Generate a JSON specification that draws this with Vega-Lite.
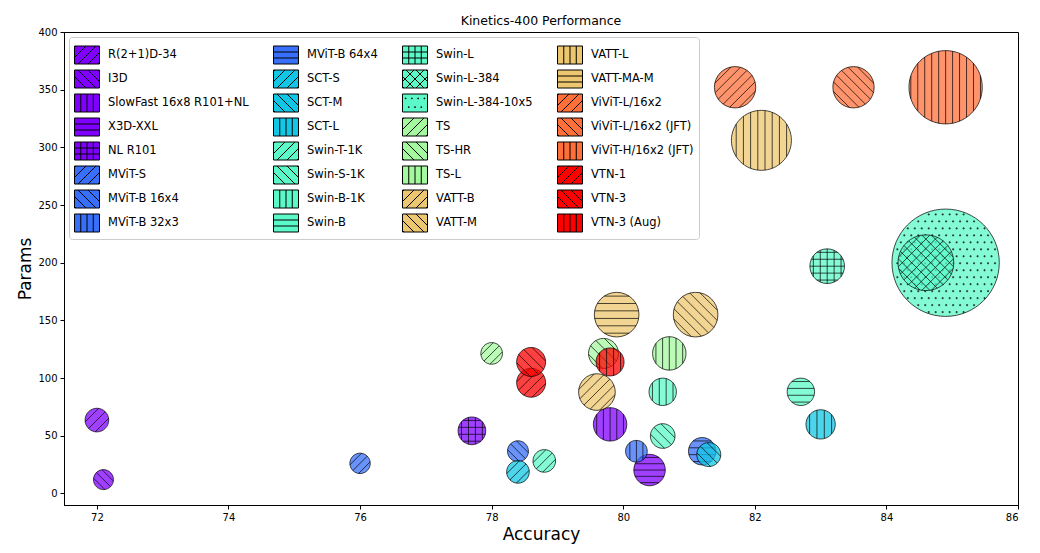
{
  "$schema": "https://vega.github.io/schema/vega-lite/v6.json",
  "width": 954,
  "height": 473,
  "autosize": {"type": "none"},
  "padding": {"left": 64, "top": 32, "right": 22, "bottom": 48},
  "background": "white",
  "title": {"text": "Kinetics-400 Performance", "fontSize": 12.5, "fontWeight": "normal", "font": "DejaVu Sans", "color": "black", "offset": 0},
  "data": {"values": [
    {"model": "R(2+1)D-34", "acc": 72.0, "params": 63.6, "flops": 140},
    {"model": "I3D", "acc": 72.1, "params": 12.0, "flops": 100},
    {"model": "SlowFast 16x8 R101+NL", "acc": 79.8, "params": 59.9, "flops": 280},
    {"model": "X3D-XXL", "acc": 80.4, "params": 20.3, "flops": 248},
    {"model": "NL R101", "acc": 77.7, "params": 54.3, "flops": 192},
    {"model": "MViT-S", "acc": 76.0, "params": 26.1, "flops": 104},
    {"model": "MViT-B 16x4", "acc": 78.4, "params": 36.6, "flops": 110},
    {"model": "MViT-B 32x3", "acc": 80.2, "params": 36.6, "flops": 118},
    {"model": "MViT-B 64x4", "acc": 81.2, "params": 36.6, "flops": 188},
    {"model": "SCT-S", "acc": 78.4, "params": 18.7, "flops": 128},
    {"model": "SCT-M", "acc": 81.3, "params": 33.7, "flops": 144},
    {"model": "SCT-L", "acc": 83.0, "params": 59.9, "flops": 215},
    {"model": "Swin-T-1K", "acc": 78.8, "params": 28.2, "flops": 128},
    {"model": "Swin-S-1K", "acc": 80.6, "params": 49.8, "flops": 152},
    {"model": "Swin-B-1K", "acc": 80.6, "params": 88.1, "flops": 188},
    {"model": "Swin-B", "acc": 82.7, "params": 88.1, "flops": 188},
    {"model": "Swin-L", "acc": 83.1, "params": 197, "flops": 300},
    {"model": "Swin-L-384-10x5", "acc": 84.9, "params": 200, "flops": 2880},
    {"model": "Swin-L-384", "acc": 84.6, "params": 200, "flops": 775},
    {"model": "TS", "acc": 78.0, "params": 121.4, "flops": 117},
    {"model": "TS-HR", "acc": 79.7, "params": 121.4, "flops": 225},
    {"model": "TS-L", "acc": 80.7, "params": 121.4, "flops": 280},
    {"model": "VATT-B", "acc": 79.6, "params": 87.9, "flops": 336},
    {"model": "VATT-M", "acc": 81.1, "params": 155, "flops": 498},
    {"model": "VATT-L", "acc": 82.1, "params": 306.1, "flops": 900},
    {"model": "VATT-MA-M", "acc": 79.9, "params": 155, "flops": 498},
    {"model": "ViViT-L/16x2", "acc": 81.7, "params": 352.1, "flops": 427},
    {"model": "ViViT-L/16x2 (JFT)", "acc": 83.5, "params": 352.1, "flops": 427},
    {"model": "ViViT-H/16x2 (JFT)", "acc": 84.9, "params": 352.1, "flops": 1344},
    {"model": "VTN-1", "acc": 78.6, "params": 96, "flops": 210},
    {"model": "VTN-3", "acc": 78.6, "params": 114, "flops": 210},
    {"model": "VTN-3 (Aug)", "acc": 79.8, "params": 114, "flops": 196}
  ]},
  "mark": {"type": "point", "filled": true, "stroke": "black", "strokeWidth": 1, "opacity": 1, "fillOpacity": 0.75, "strokeOpacity": 0.7},
  "encoding": {
    "x": {"field": "acc", "type": "quantitative", "scale": {"domain": [71.5, 86], "nice": false, "zero": false}, "axis": {"title": "Accuracy", "values": [72, 74, 76, 78, 80, 82, 84, 86], "format": "d"}},
    "y": {"field": "params", "type": "quantitative", "scale": {"domain": [-10, 400], "nice": false, "zero": false}, "axis": {"title": "Params", "values": [0, 50, 100, 150, 200, 250, 300, 350, 400], "format": "d"}},
    "size": {"field": "flops", "type": "quantitative", "scale": {"domain": [0, 3000], "range": [0, 12000], "zero": true}, "legend": null},
    "color": {
      "field": "model", "type": "nominal",
      "scale": {
        "domain": ["R(2+1)D-34", "I3D", "SlowFast 16x8 R101+NL", "X3D-XXL", "NL R101", "MViT-S", "MViT-B 16x4", "MViT-B 32x3", "MViT-B 64x4", "SCT-S", "SCT-M", "SCT-L", "Swin-T-1K", "Swin-S-1K", "Swin-B-1K", "Swin-B", "Swin-L", "Swin-L-384", "Swin-L-384-10x5", "TS", "TS-HR", "TS-L", "VATT-B", "VATT-M", "VATT-L", "VATT-MA-M", "ViViT-L/16x2", "ViViT-L/16x2 (JFT)", "ViViT-H/16x2 (JFT)", "VTN-1", "VTN-3", "VTN-3 (Aug)"],
        "range": ["#8000ff", "#8000ff", "#8000ff", "#8000ff", "#8000ff", "#376ff9", "#376ff9", "#376ff9", "#376ff9", "#12c7e6", "#12c7e6", "#12c7e6", "#5bf9c7", "#5bf9c7", "#5bf9c7", "#5bf9c7", "#5bf9c7", "#5bf9c7", "#5bf9c7", "#a4f99f", "#a4f99f", "#a4f99f", "#edc76f", "#edc76f", "#edc76f", "#edc76f", "#ff6f39", "#ff6f39", "#ff6f39", "#ff0000", "#ff0000", "#ff0000"]
      },
      "legend": {
        "title": null, "orient": "top-left", "offset": 5, "columns": 4, "columnPadding": 22, "rowPadding": 0, "symbolLimit": 40,
        "symbolSize": 625, "symbolStrokeColor": "black", "symbolStrokeWidth": 1, "symbolOpacity": 1,
        "labelFontSize": 11.5, "labelFont": "DejaVu Sans", "labelOffset": 8, "labelColor": "black", "labelLimit": 300,
        "padding": 5, "strokeColor": "#cccccc", "fillColor": "rgba(255,255,255,0.8)", "cornerRadius": 3,
        "encode": {"symbols": {"update": {
          "fillOpacity": {"value": 1}, "strokeOpacity": {"value": 1}, "opacity": {"value": 1},
          "stroke": {"value": "black"}, "strokeWidth": {"value": 1},
          "shape": {"signal": "['M-1,-0.72L1,-0.72L1,0.72L-1,0.72ZM-0.72,0.72L0.72,-0.72M0.08,0.72L1,-0.2M-1,0.2L-0.08,-0.72M0.88,0.72L1,0.6M-1,-0.6L-0.88,-0.72', 'M-1,-0.72L1,-0.72L1,0.72L-1,0.72ZM-0.72,-0.72L0.72,0.72M0.08,-0.72L1,0.2M-1,-0.2L-0.08,0.72M0.88,-0.72L1,-0.6M-1,0.6L-0.88,0.72', 'M-1,-0.72L1,-0.72L1,0.72L-1,0.72ZM-0.5,-0.72L-0.5,0.72M0,-0.72L0,0.72M0.5,-0.72L0.5,0.72', 'M-1,-0.72L1,-0.72L1,0.72L-1,0.72ZM-1,-0.24L1,-0.24M-1,0.24L1,0.24', 'M-1,-0.72L1,-0.72L1,0.72L-1,0.72ZM-0.5,-0.72L-0.5,0.72M0,-0.72L0,0.72M0.5,-0.72L0.5,0.72M-1,-0.24L1,-0.24M-1,0.24L1,0.24', 'M-1,-0.72L1,-0.72L1,0.72L-1,0.72ZM-0.72,0.72L0.72,-0.72M0.08,0.72L1,-0.2M-1,0.2L-0.08,-0.72M0.88,0.72L1,0.6M-1,-0.6L-0.88,-0.72M-0.72,-0.72L0.72,0.72M0.08,-0.72L1,0.2M-1,-0.2L-0.08,0.72M0.88,-0.72L1,-0.6M-1,0.6L-0.88,0.72', 'M-1,-0.72L1,-0.72L1,0.72L-1,0.72ZM-0.78,-0.4L-0.72,-0.4L-0.72,-0.34L-0.78,-0.34ZM-0.28,-0.4L-0.22,-0.4L-0.22,-0.34L-0.28,-0.34ZM0.22,-0.4L0.28,-0.4L0.28,-0.34L0.22,-0.34ZM0.72,-0.4L0.78,-0.4L0.78,-0.34L0.72,-0.34ZM-0.53,0.3L-0.47,0.3L-0.47,0.36L-0.53,0.36ZM-0.03,0.3L0.03,0.3L0.03,0.36L-0.03,0.36ZM0.47,0.3L0.53,0.3L0.53,0.36L0.47,0.36Z'][[0,1,2,3,4,0,1,2,3,0,1,2,0,1,2,3,4,5,6,0,1,2,0,1,2,3,0,1,2,0,1,2][indexof(['R(2+1)D-34','I3D','SlowFast 16x8 R101+NL','X3D-XXL','NL R101','MViT-S','MViT-B 16x4','MViT-B 32x3','MViT-B 64x4','SCT-S','SCT-M','SCT-L','Swin-T-1K','Swin-S-1K','Swin-B-1K','Swin-B','Swin-L','Swin-L-384','Swin-L-384-10x5','TS','TS-HR','TS-L','VATT-B','VATT-M','VATT-L','VATT-MA-M','ViViT-L/16x2','ViViT-L/16x2 (JFT)','ViViT-H/16x2 (JFT)','VTN-1','VTN-3','VTN-3 (Aug)'], datum.value)]]"}
        }}}
      }
    },
    "shape": {
      "condition": [
        {"test": "indexof(['R(2+1)D-34','MViT-S','SCT-S','Swin-T-1K','TS'], datum.model) >= 0", "value": "M1,0C1,0.552,0.552,1,0,1C-0.552,1,-1,0.552,-1,0C-1,-0.552,-0.552,-1,0,-1C0.552,-1,1,-0.552,1,0ZM-0.707,0.707L0.707,-0.707M-0.141,0.99L0.99,-0.141M-0.99,0.141L0.141,-0.99"},
        {"test": "indexof(['I3D','MViT-B 16x4','SCT-M','Swin-S-1K'], datum.model) >= 0", "value": "M1,0C1,0.552,0.552,1,0,1C-0.552,1,-1,0.552,-1,0C-1,-0.552,-0.552,-1,0,-1C0.552,-1,1,-0.552,1,0ZM-0.707,-0.707L0.707,0.707M-0.141,-0.99L0.99,0.141M-0.99,-0.141L0.141,0.99"},
        {"test": "datum.model === 'MViT-B 32x3'", "value": "M1,0C1,0.552,0.552,1,0,1C-0.552,1,-1,0.552,-1,0C-1,-0.552,-0.552,-1,0,-1C0.552,-1,1,-0.552,1,0ZM0,-1L0,1M0.6,-0.8L0.6,0.8M-0.6,-0.8L-0.6,0.8"},
        {"test": "indexof(['SCT-L','Swin-B-1K','VTN-3 (Aug)'], datum.model) >= 0", "value": "M1,0C1,0.552,0.552,1,0,1C-0.552,1,-1,0.552,-1,0C-1,-0.552,-0.552,-1,0,-1C0.552,-1,1,-0.552,1,0ZM-0.25,-0.968L-0.25,0.968M0.25,-0.968L0.25,0.968M-0.75,-0.661L-0.75,0.661M0.75,-0.661L0.75,0.661"},
        {"test": "indexof(['SlowFast 16x8 R101+NL','TS-L'], datum.model) >= 0", "value": "M1,0C1,0.552,0.552,1,0,1C-0.552,1,-1,0.552,-1,0C-1,-0.552,-0.552,-1,0,-1C0.552,-1,1,-0.552,1,0ZM0,-1L0,1M-0.4,-0.917L-0.4,0.917M0.4,-0.917L0.4,0.917M-0.8,-0.6L-0.8,0.6M0.8,-0.6L0.8,0.6"},
        {"test": "indexof(['MViT-B 64x4','Swin-B'], datum.model) >= 0", "value": "M1,0C1,0.552,0.552,1,0,1C-0.552,1,-1,0.552,-1,0C-1,-0.552,-0.552,-1,0,-1C0.552,-1,1,-0.552,1,0ZM-0.968,-0.25L0.968,-0.25M-0.968,0.25L0.968,0.25M-0.661,-0.75L0.661,-0.75M-0.661,0.75L0.661,0.75"},
        {"test": "datum.model === 'X3D-XXL'", "value": "M1,0C1,0.552,0.552,1,0,1C-0.552,1,-1,0.552,-1,0C-1,-0.552,-0.552,-1,0,-1C0.552,-1,1,-0.552,1,0ZM-1,0L1,0M-0.917,-0.4L0.917,-0.4M-0.917,0.4L0.917,0.4M-0.6,-0.8L0.6,-0.8M-0.6,0.8L0.6,0.8"},
        {"test": "datum.model === 'VATT-MA-M'", "value": "M1,0C1,0.552,0.552,1,0,1C-0.552,1,-1,0.552,-1,0C-1,-0.552,-0.552,-1,0,-1C0.552,-1,1,-0.552,1,0ZM-0.985,-0.17L0.985,-0.17M-0.985,0.17L0.985,0.17M-0.866,-0.5L0.866,-0.5M-0.866,0.5L0.866,0.5M-0.558,-0.83L0.558,-0.83M-0.558,0.83L0.558,0.83"},
        {"test": "datum.model === 'NL R101'", "value": "M1,0C1,0.552,0.552,1,0,1C-0.552,1,-1,0.552,-1,0C-1,-0.552,-0.552,-1,0,-1C0.552,-1,1,-0.552,1,0ZM-0.25,-0.968L-0.25,0.968M0.25,-0.968L0.25,0.968M-0.75,-0.661L-0.75,0.661M0.75,-0.661L0.75,0.661M-0.968,-0.25L0.968,-0.25M-0.968,0.25L0.968,0.25M-0.661,-0.75L0.661,-0.75M-0.661,0.75L0.661,0.75"},
        {"test": "datum.model === 'Swin-L'", "value": "M1,0C1,0.552,0.552,1,0,1C-0.552,1,-1,0.552,-1,0C-1,-0.552,-0.552,-1,0,-1C0.552,-1,1,-0.552,1,0ZM0,-1L0,1M-0.4,-0.917L-0.4,0.917M0.4,-0.917L0.4,0.917M-0.8,-0.6L-0.8,0.6M0.8,-0.6L0.8,0.6M-1,0L1,0M-0.917,-0.4L0.917,-0.4M-0.917,0.4L0.917,0.4M-0.6,-0.8L0.6,-0.8M-0.6,0.8L0.6,0.8"},
        {"test": "datum.model === 'Swin-L-384'", "value": "M1,0C1,0.552,0.552,1,0,1C-0.552,1,-1,0.552,-1,0C-1,-0.552,-0.552,-1,0,-1C0.552,-1,1,-0.552,1,0ZM-0.617,0.787L0.787,-0.617M-0.787,0.617L0.617,-0.787M-0.405,0.914L0.914,-0.405M-0.914,0.405L0.405,-0.914M-0.141,0.99L0.99,-0.141M-0.99,0.141L0.141,-0.99M0.21,0.978L0.978,0.21M-0.978,-0.21L-0.21,-0.978M-0.617,-0.787L0.787,0.617M-0.787,-0.617L0.617,0.787M-0.405,-0.914L0.914,0.405M-0.914,-0.405L0.405,0.914M-0.141,-0.99L0.99,0.141M-0.99,-0.141L0.141,0.99M0.21,-0.978L0.978,-0.21M-0.978,0.21L-0.21,0.978"},
        {"test": "datum.model === 'Swin-L-384-10x5'", "value": "M1,0C1,0.552,0.552,1,0,1C-0.552,1,-1,0.552,-1,0C-1,-0.552,-0.552,-1,0,-1C0.552,-1,1,-0.552,1,0ZM-0.325,-0.91h0.02v0.02h-0.02v-0.02m0.13,0h0.02v0.02h-0.02v-0.02m0.13,0h0.02v0.02h-0.02v-0.02m0.13,0h0.02v0.02h-0.02v-0.02m0.13,0h0.02v0.02h-0.02v-0.02m0.13,0h0.02v0.02h-0.02v-0.02M-0.52,-0.78h0.02v0.02h-0.02v-0.02m0.13,0h0.02v0.02h-0.02v-0.02m0.13,0h0.02v0.02h-0.02v-0.02m0.13,0h0.02v0.02h-0.02v-0.02m0.13,0h0.02v0.02h-0.02v-0.02m0.13,0h0.02v0.02h-0.02v-0.02m0.13,0h0.02v0.02h-0.02v-0.02m0.13,0h0.02v0.02h-0.02v-0.02m0.13,0h0.02v0.02h-0.02v-0.02M-0.715,-0.65h0.02v0.02h-0.02v-0.02m0.13,0h0.02v0.02h-0.02v-0.02m0.13,0h0.02v0.02h-0.02v-0.02m0.13,0h0.02v0.02h-0.02v-0.02m0.13,0h0.02v0.02h-0.02v-0.02m0.13,0h0.02v0.02h-0.02v-0.02m0.13,0h0.02v0.02h-0.02v-0.02m0.13,0h0.02v0.02h-0.02v-0.02m0.13,0h0.02v0.02h-0.02v-0.02m0.13,0h0.02v0.02h-0.02v-0.02m0.13,0h0.02v0.02h-0.02v-0.02m0.13,0h0.02v0.02h-0.02v-0.02M-0.78,-0.52h0.02v0.02h-0.02v-0.02m0.13,0h0.02v0.02h-0.02v-0.02m0.13,0h0.02v0.02h-0.02v-0.02m0.13,0h0.02v0.02h-0.02v-0.02m0.13,0h0.02v0.02h-0.02v-0.02m0.13,0h0.02v0.02h-0.02v-0.02m0.13,0h0.02v0.02h-0.02v-0.02m0.13,0h0.02v0.02h-0.02v-0.02m0.13,0h0.02v0.02h-0.02v-0.02m0.13,0h0.02v0.02h-0.02v-0.02m0.13,0h0.02v0.02h-0.02v-0.02m0.13,0h0.02v0.02h-0.02v-0.02m0.13,0h0.02v0.02h-0.02v-0.02M-0.845,-0.39h0.02v0.02h-0.02v-0.02m0.13,0h0.02v0.02h-0.02v-0.02m0.13,0h0.02v0.02h-0.02v-0.02m0.13,0h0.02v0.02h-0.02v-0.02m0.13,0h0.02v0.02h-0.02v-0.02m0.13,0h0.02v0.02h-0.02v-0.02m0.13,0h0.02v0.02h-0.02v-0.02m0.13,0h0.02v0.02h-0.02v-0.02m0.13,0h0.02v0.02h-0.02v-0.02m0.13,0h0.02v0.02h-0.02v-0.02m0.13,0h0.02v0.02h-0.02v-0.02m0.13,0h0.02v0.02h-0.02v-0.02m0.13,0h0.02v0.02h-0.02v-0.02m0.13,0h0.02v0.02h-0.02v-0.02M-0.91,-0.26h0.02v0.02h-0.02v-0.02m0.13,0h0.02v0.02h-0.02v-0.02m0.13,0h0.02v0.02h-0.02v-0.02m0.13,0h0.02v0.02h-0.02v-0.02m0.13,0h0.02v0.02h-0.02v-0.02m0.13,0h0.02v0.02h-0.02v-0.02m0.13,0h0.02v0.02h-0.02v-0.02m0.13,0h0.02v0.02h-0.02v-0.02m0.13,0h0.02v0.02h-0.02v-0.02m0.13,0h0.02v0.02h-0.02v-0.02m0.13,0h0.02v0.02h-0.02v-0.02m0.13,0h0.02v0.02h-0.02v-0.02m0.13,0h0.02v0.02h-0.02v-0.02m0.13,0h0.02v0.02h-0.02v-0.02m0.13,0h0.02v0.02h-0.02v-0.02M-0.845,-0.13h0.02v0.02h-0.02v-0.02m0.13,0h0.02v0.02h-0.02v-0.02m0.13,0h0.02v0.02h-0.02v-0.02m0.13,0h0.02v0.02h-0.02v-0.02m0.13,0h0.02v0.02h-0.02v-0.02m0.13,0h0.02v0.02h-0.02v-0.02m0.13,0h0.02v0.02h-0.02v-0.02m0.13,0h0.02v0.02h-0.02v-0.02m0.13,0h0.02v0.02h-0.02v-0.02m0.13,0h0.02v0.02h-0.02v-0.02m0.13,0h0.02v0.02h-0.02v-0.02m0.13,0h0.02v0.02h-0.02v-0.02m0.13,0h0.02v0.02h-0.02v-0.02m0.13,0h0.02v0.02h-0.02v-0.02M-0.91,0h0.02v0.02h-0.02v-0.02m0.13,0h0.02v0.02h-0.02v-0.02m0.13,0h0.02v0.02h-0.02v-0.02m0.13,0h0.02v0.02h-0.02v-0.02m0.13,0h0.02v0.02h-0.02v-0.02m0.13,0h0.02v0.02h-0.02v-0.02m0.13,0h0.02v0.02h-0.02v-0.02m0.13,0h0.02v0.02h-0.02v-0.02m0.13,0h0.02v0.02h-0.02v-0.02m0.13,0h0.02v0.02h-0.02v-0.02m0.13,0h0.02v0.02h-0.02v-0.02m0.13,0h0.02v0.02h-0.02v-0.02m0.13,0h0.02v0.02h-0.02v-0.02m0.13,0h0.02v0.02h-0.02v-0.02m0.13,0h0.02v0.02h-0.02v-0.02M-0.845,0.13h0.02v0.02h-0.02v-0.02m0.13,0h0.02v0.02h-0.02v-0.02m0.13,0h0.02v0.02h-0.02v-0.02m0.13,0h0.02v0.02h-0.02v-0.02m0.13,0h0.02v0.02h-0.02v-0.02m0.13,0h0.02v0.02h-0.02v-0.02m0.13,0h0.02v0.02h-0.02v-0.02m0.13,0h0.02v0.02h-0.02v-0.02m0.13,0h0.02v0.02h-0.02v-0.02m0.13,0h0.02v0.02h-0.02v-0.02m0.13,0h0.02v0.02h-0.02v-0.02m0.13,0h0.02v0.02h-0.02v-0.02m0.13,0h0.02v0.02h-0.02v-0.02m0.13,0h0.02v0.02h-0.02v-0.02M-0.91,0.26h0.02v0.02h-0.02v-0.02m0.13,0h0.02v0.02h-0.02v-0.02m0.13,0h0.02v0.02h-0.02v-0.02m0.13,0h0.02v0.02h-0.02v-0.02m0.13,0h0.02v0.02h-0.02v-0.02m0.13,0h0.02v0.02h-0.02v-0.02m0.13,0h0.02v0.02h-0.02v-0.02m0.13,0h0.02v0.02h-0.02v-0.02m0.13,0h0.02v0.02h-0.02v-0.02m0.13,0h0.02v0.02h-0.02v-0.02m0.13,0h0.02v0.02h-0.02v-0.02m0.13,0h0.02v0.02h-0.02v-0.02m0.13,0h0.02v0.02h-0.02v-0.02m0.13,0h0.02v0.02h-0.02v-0.02m0.13,0h0.02v0.02h-0.02v-0.02M-0.845,0.39h0.02v0.02h-0.02v-0.02m0.13,0h0.02v0.02h-0.02v-0.02m0.13,0h0.02v0.02h-0.02v-0.02m0.13,0h0.02v0.02h-0.02v-0.02m0.13,0h0.02v0.02h-0.02v-0.02m0.13,0h0.02v0.02h-0.02v-0.02m0.13,0h0.02v0.02h-0.02v-0.02m0.13,0h0.02v0.02h-0.02v-0.02m0.13,0h0.02v0.02h-0.02v-0.02m0.13,0h0.02v0.02h-0.02v-0.02m0.13,0h0.02v0.02h-0.02v-0.02m0.13,0h0.02v0.02h-0.02v-0.02m0.13,0h0.02v0.02h-0.02v-0.02m0.13,0h0.02v0.02h-0.02v-0.02M-0.78,0.52h0.02v0.02h-0.02v-0.02m0.13,0h0.02v0.02h-0.02v-0.02m0.13,0h0.02v0.02h-0.02v-0.02m0.13,0h0.02v0.02h-0.02v-0.02m0.13,0h0.02v0.02h-0.02v-0.02m0.13,0h0.02v0.02h-0.02v-0.02m0.13,0h0.02v0.02h-0.02v-0.02m0.13,0h0.02v0.02h-0.02v-0.02m0.13,0h0.02v0.02h-0.02v-0.02m0.13,0h0.02v0.02h-0.02v-0.02m0.13,0h0.02v0.02h-0.02v-0.02m0.13,0h0.02v0.02h-0.02v-0.02m0.13,0h0.02v0.02h-0.02v-0.02M-0.715,0.65h0.02v0.02h-0.02v-0.02m0.13,0h0.02v0.02h-0.02v-0.02m0.13,0h0.02v0.02h-0.02v-0.02m0.13,0h0.02v0.02h-0.02v-0.02m0.13,0h0.02v0.02h-0.02v-0.02m0.13,0h0.02v0.02h-0.02v-0.02m0.13,0h0.02v0.02h-0.02v-0.02m0.13,0h0.02v0.02h-0.02v-0.02m0.13,0h0.02v0.02h-0.02v-0.02m0.13,0h0.02v0.02h-0.02v-0.02m0.13,0h0.02v0.02h-0.02v-0.02m0.13,0h0.02v0.02h-0.02v-0.02M-0.52,0.78h0.02v0.02h-0.02v-0.02m0.13,0h0.02v0.02h-0.02v-0.02m0.13,0h0.02v0.02h-0.02v-0.02m0.13,0h0.02v0.02h-0.02v-0.02m0.13,0h0.02v0.02h-0.02v-0.02m0.13,0h0.02v0.02h-0.02v-0.02m0.13,0h0.02v0.02h-0.02v-0.02m0.13,0h0.02v0.02h-0.02v-0.02m0.13,0h0.02v0.02h-0.02v-0.02M-0.325,0.91h0.02v0.02h-0.02v-0.02m0.13,0h0.02v0.02h-0.02v-0.02m0.13,0h0.02v0.02h-0.02v-0.02m0.13,0h0.02v0.02h-0.02v-0.02m0.13,0h0.02v0.02h-0.02v-0.02m0.13,0h0.02v0.02h-0.02v-0.02"},
        {"test": "datum.model === 'VTN-1'", "value": "M1,0C1,0.552,0.552,1,0,1C-0.552,1,-1,0.552,-1,0C-1,-0.552,-0.552,-1,0,-1C0.552,-1,1,-0.552,1,0ZM-0.508,0.861L0.861,-0.508M-0.861,0.508L0.508,-0.861M0.063,0.998L0.998,0.063M-0.998,-0.063L-0.063,-0.998"},
        {"test": "indexof(['TS-HR','VTN-3'], datum.model) >= 0", "value": "M1,0C1,0.552,0.552,1,0,1C-0.552,1,-1,0.552,-1,0C-1,-0.552,-0.552,-1,0,-1C0.552,-1,1,-0.552,1,0ZM-0.508,-0.861L0.861,0.508M-0.861,-0.508L0.508,0.861M0.063,-0.998L0.998,-0.063M-0.998,0.063L-0.063,0.998"},
        {"test": "datum.model === 'VATT-B'", "value": "M1,0C1,0.552,0.552,1,0,1C-0.552,1,-1,0.552,-1,0C-1,-0.552,-0.552,-1,0,-1C0.552,-1,1,-0.552,1,0ZM-0.707,0.707L0.707,-0.707M-0.366,0.931L0.931,-0.366M-0.931,0.366L0.366,-0.931M0.141,0.99L0.99,0.141M-0.99,-0.141L-0.141,-0.99"},
        {"test": "datum.model === 'ViViT-L/16x2'", "value": "M1,0C1,0.552,0.552,1,0,1C-0.552,1,-1,0.552,-1,0C-1,-0.552,-0.552,-1,0,-1C0.552,-1,1,-0.552,1,0ZM-0.576,0.817L0.817,-0.576M-0.817,0.576L0.576,-0.817M-0.259,0.966L0.966,-0.259M-0.966,0.259L0.259,-0.966M0.192,0.981L0.981,0.192M-0.981,-0.192L-0.192,-0.981"},
        {"test": "indexof(['VATT-M','ViViT-L/16x2 (JFT)'], datum.model) >= 0", "value": "M1,0C1,0.552,0.552,1,0,1C-0.552,1,-1,0.552,-1,0C-1,-0.552,-0.552,-1,0,-1C0.552,-1,1,-0.552,1,0ZM-0.576,-0.817L0.817,0.576M-0.817,-0.576L0.576,0.817M-0.259,-0.966L0.966,0.259M-0.966,-0.259L0.259,0.966M0.192,-0.981L0.981,-0.192M-0.981,0.192L-0.192,0.981"},
        {"test": "datum.model === 'VATT-L'", "value": "M1,0C1,0.552,0.552,1,0,1C-0.552,1,-1,0.552,-1,0C-1,-0.552,-0.552,-1,0,-1C0.552,-1,1,-0.552,1,0ZM-0.12,-0.993L-0.12,0.993M0.12,-0.993L0.12,0.993M-0.36,-0.933L-0.36,0.933M0.36,-0.933L0.36,0.933M-0.6,-0.8L-0.6,0.8M0.6,-0.8L0.6,0.8M-0.84,-0.543L-0.84,0.543M0.84,-0.543L0.84,0.543"},
        {"test": "datum.model === 'ViViT-H/16x2 (JFT)'", "value": "M1,0C1,0.552,0.552,1,0,1C-0.552,1,-1,0.552,-1,0C-1,-0.552,-0.552,-1,0,-1C0.552,-1,1,-0.552,1,0ZM0,-1L0,1M-0.19,-0.982L-0.19,0.982M0.19,-0.982L0.19,0.982M-0.38,-0.925L-0.38,0.925M0.38,-0.925L0.38,0.925M-0.57,-0.822L-0.57,0.822M0.57,-0.822L0.57,0.822M-0.76,-0.65L-0.76,0.65M0.76,-0.65L0.76,0.65M-0.95,-0.312L-0.95,0.312M0.95,-0.312L0.95,0.312"}
      ],
      "value": "M1,0C1,0.552,0.552,1,0,1C-0.552,1,-1,0.552,-1,0C-1,-0.552,-0.552,-1,0,-1C0.552,-1,1,-0.552,1,0Z"
    }
  },
  "config": {
    "font": "DejaVu Sans",
    "view": {"stroke": "black", "strokeWidth": 1},
    "axis": {"labelFont": "DejaVu Sans", "titleFont": "DejaVu Sans", "labelFontSize": 10, "titleFontSize": 17, "titleFontWeight": "normal", "labelColor": "black", "titleColor": "black", "domainColor": "black", "tickColor": "black", "tickSize": 4, "labelPadding": 3, "grid": false, "domainWidth": 1, "tickWidth": 1},
    "axisX": {"titlePadding": 4},
    "axisY": {"titlePadding": 3}
  }
}
